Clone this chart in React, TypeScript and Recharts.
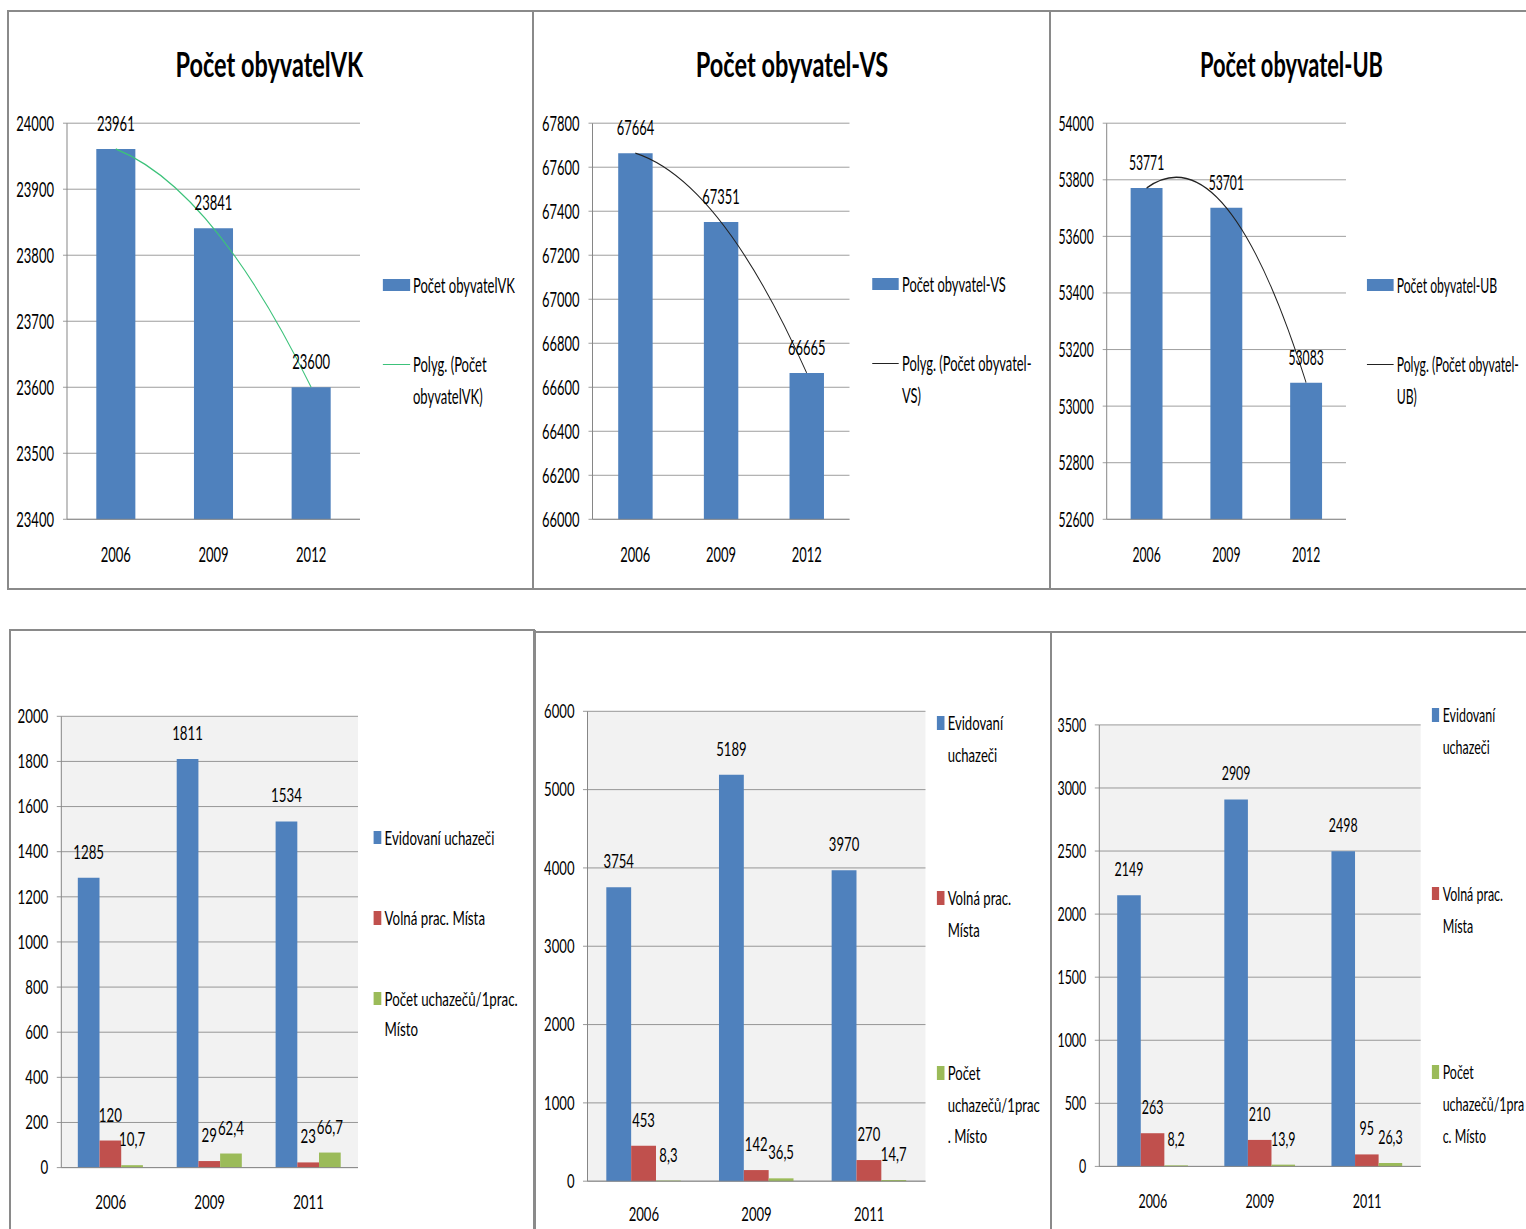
import React from "react";
import {
  ComposedChart,
  BarChart,
  Bar,
  Line,
  XAxis,
  YAxis,
  CartesianGrid,
  Legend,
  LabelList,
} from "recharts";

// ---- data ----
const popYears = ["2006", "2009", "2012"];
const popVK = [23961, 23841, 23600];
const popVS = [67664, 67351, 66665];
const popUB = [53771, 53701, 53083];
const ticksVK = [23400, 23500, 23600, 23700, 23800, 23900, 24000];
const ticksVS = [66000, 66200, 66400, 66600, 66800, 67000, 67200, 67400, 67600, 67800];
const ticksUB = [52600, 52800, 53000, 53200, 53400, 53600, 53800, 54000];

const jobYears = ["2006", "2009", "2011"];
const uchazeciVK = [1285, 1811, 1534];
const mistaVK = [120, 29, 23];
const pomerVK = [10.7, 62.4, 66.7];
const uchazeciVS = [3754, 5189, 3970];
const mistaVS = [453, 142, 270];
const pomerVS = [8.3, 36.5, 14.7];
const uchazeciUB = [2149, 2909, 2498];
const mistaUB = [263, 210, 95];
const pomerUB = [8.2, 13.9, 26.3];
const ticksJobVK = [0, 200, 400, 600, 800, 1000, 1200, 1400, 1600, 1800, 2000];
const ticksJobVS = [0, 1000, 2000, 3000, 4000, 5000, 6000];
const ticksJobUB = [0, 500, 1000, 1500, 2000, 2500, 3000, 3500];

const jobNames = ["Evidovaní uchazeči", "Volná prac. Místa", "Počet uchazečů/1prac. Místo"];
const jobLinesVK = [["Evidovaní uchazeči"], ["Volná prac. Místa"], ["Počet uchazečů/1prac.", "Místo"]];
const jobLinesVS = [["Evidovaní", "uchazeči"], ["Volná prac.", "Místa"], ["Počet", "uchazečů/1prac", ". Místo"]];
const jobLinesUB = [["Evidovaní", "uchazeči"], ["Volná prac.", "Místa"], ["Počet", "uchazečů/1pra", "c. Místo"]];

// ---- styling ----
const FONT = "Lato, 'Open Sans', sans-serif";
const GRID = "#868686";
const BLUE = "#4F81BD";
const RED = "#C0504D";
const GREEN = "#9BBB59";
const BORDER = "#8a8a8a";

type Rect = { left: number; top: number; right: number; bottom: number };

// order-2 polynomial trend through the three points (quadratic bezier)
function parabola(context: any) {
  let pts: number[][] = [];
  return {
    areaStart() {},
    areaEnd() {},
    lineStart() {
      pts = [];
    },
    point(x: number, y: number) {
      pts.push([x, y]);
    },
    lineEnd() {
      if (!pts.length) return;
      const [a, b, c] = pts;
      context.moveTo(a[0], a[1]);
      if (pts.length === 3) {
        context.quadraticCurveTo(
          2 * b[0] - (a[0] + c[0]) / 2,
          2 * b[1] - (a[1] + c[1]) / 2,
          c[0],
          c[1]
        );
      } else {
        pts.slice(1).forEach((p) => context.lineTo(p[0], p[1]));
      }
    },
  };
}

const commaNum = (v: any) => String(v).replace(".", ",");

function LegendBlock({ payload, items, fontSize, lineH, gap, markerW, markerH, textGap }: any) {
  return (
    <div style={{ fontFamily: FONT, fontSize, lineHeight: `${lineH}px`, color: "#000" }}>
      {items.map((it: any, i: number) => {
        const entry = (payload || []).find((p: any) => p.value === it.name);
        const color = entry?.color ?? "#000";
        return (
          <div key={it.name} style={{ display: "flex", marginTop: i ? gap : 0 }}>
            <div
              style={{
                width: markerW,
                height: lineH,
                flex: "none",
                display: "flex",
                alignItems: "center",
                marginRight: textGap,
              }}
            >
              {it.kind === "line" ? (
                <div style={{ width: "100%", borderTop: `1.5px solid ${color}` }} />
              ) : (
                <div style={{ width: "100%", height: markerH, background: color }} />
              )}
            </div>
            <div style={{ whiteSpace: "nowrap" }}>
              {it.lines.map((l: string) => (
                <div key={l}>{l}</div>
              ))}
            </div>
          </div>
        );
      })}
    </div>
  );
}

function Squeezed({ box, s, children }: { box: Rect; s: number; children: any }) {
  return (
    <div
      style={{
        position: "absolute",
        left: box.left,
        top: box.top,
        width: (box.right - box.left) / s,
        height: box.bottom - box.top,
        transform: `scaleX(${s})`,
        transformOrigin: "0 0",
      }}
    >
      {children}
    </div>
  );
}

function PopChart({ s, name, values, ticks, trendColor, box, plot, legendX, legendY, legendLines }: any) {
  const W = (box.right - box.left) / s;
  const H = box.bottom - box.top;
  const xAxisH = 40;
  const data = popYears.map((y, i) => ({ year: y, value: values[i] }));
  const trendName = `Polyg. (${name})`;
  const tickStyle = { fontSize: 21, fill: "#000", fontFamily: FONT };
  const lineH = 32;
  return (
    <Squeezed box={box} s={s}>
      <ComposedChart
        width={W}
        height={H}
        data={data}
        barCategoryGap="30%"
        margin={{
          top: plot.top - box.top,
          right: (box.right - plot.right) / s,
          left: 0,
          bottom: box.bottom - plot.bottom - xAxisH,
        }}
      >
        <CartesianGrid vertical={false} stroke={GRID} />
        <XAxis
          xAxisId="edge"
          type="number"
          domain={[0, 3]}
          ticks={[0, 1, 2, 3]}
          allowDataOverflow
          tick={false}
          axisLine={false}
          tickLine={{ stroke: GRID, strokeWidth: 1 / s }}
          tickSize={9}
          height={0}
        />
        <XAxis
          xAxisId="cat"
          dataKey="year"
          height={xAxisH}
          tickLine={false}
          tickSize={0}
          tickMargin={28}
          axisLine={{ stroke: GRID }}
          tick={tickStyle}
        />
        <YAxis
          domain={[ticks[0], ticks[ticks.length - 1]]}
          ticks={ticks}
          interval={0}
          width={(plot.left - box.left) / s}
          tickSize={4 / s}
          tickMargin={9 / s}
          axisLine={{ stroke: GRID, strokeWidth: 1 / s }}
          tickLine={{ stroke: GRID }}
          tick={tickStyle}
        />
        <Bar xAxisId="cat" dataKey="value" name={name} fill={BLUE} isAnimationActive={false}>
          <LabelList dataKey="value" position="top" offset={18} style={{ ...tickStyle }} />
        </Bar>
        <Line
          xAxisId="cat"
          dataKey="value"
          name={trendName}
          type={parabola as any}
          stroke={trendColor}
          strokeWidth={1.4}
          dot={false}
          activeDot={false}
          legendType="line"
          isAnimationActive={false}
        />
        <Legend
          layout="horizontal"
          verticalAlign="middle"
          align="center"
          wrapperStyle={{
            left: (legendX - box.left) / s,
            top: legendY - box.top - lineH / 2,
            width: 320,
            height: "auto",
          }}
          content={(props: any) => (
            <LegendBlock
              payload={props.payload}
              items={[
                { name, lines: legendLines[0], kind: "bar" },
                { name: trendName, lines: legendLines[1], kind: "line" },
              ]}
              fontSize={21}
              lineH={lineH}
              gap={47}
              markerW={27 / s}
              markerH={12.5}
              textGap={3 / s}
            />
          )}
        />
      </ComposedChart>
    </Squeezed>
  );
}

function JobChart({ s, u, m, p, ticks, box, plot, legendX, legendY, lineH, gap, legendLines, tickMargin }: any) {
  const W = (box.right - box.left) / s;
  const H = box.bottom - box.top;
  const xAxisH = 40;
  const data = jobYears.map((y, i) => ({ year: y, u: u[i], m: m[i], p: p[i] }));
  const tickStyle = { fontSize: 19, fill: "#000", fontFamily: FONT };
  const keys = ["u", "m", "p"];
  const colors = [BLUE, RED, GREEN];
  return (
    <Squeezed box={box} s={s}>
      <BarChart
        width={W}
        height={H}
        data={data}
        barCategoryGap="16.7%"
        barGap={0}
        margin={{
          top: plot.top - box.top,
          right: (box.right - plot.right) / s,
          left: 0,
          bottom: box.bottom - plot.bottom - xAxisH,
        }}
      >
        <CartesianGrid vertical={false} stroke={GRID} fill="#F2F2F2" />
        <XAxis
          xAxisId="edge"
          type="number"
          domain={[0, 3]}
          ticks={[0, 1, 2, 3]}
          allowDataOverflow
          tick={false}
          axisLine={false}
          tickLine={{ stroke: GRID, strokeWidth: 1 / s }}
          tickSize={9}
          height={0}
        />
        <XAxis
          xAxisId="cat"
          dataKey="year"
          height={xAxisH}
          tickLine={false}
          tickSize={0}
          tickMargin={tickMargin}
          axisLine={{ stroke: GRID }}
          tick={tickStyle}
        />
        <YAxis
          domain={[ticks[0], ticks[ticks.length - 1]]}
          ticks={ticks}
          interval={0}
          width={(plot.left - box.left) / s}
          tickSize={4.5 / s}
          tickMargin={8.5 / s}
          axisLine={{ stroke: GRID, strokeWidth: 1 / s }}
          tickLine={{ stroke: GRID }}
          tick={tickStyle}
        />
        {keys.map((k, i) => (
          <Bar key={k} xAxisId="cat" dataKey={k} name={jobNames[i]} fill={colors[i]} isAnimationActive={false}>
            <LabelList dataKey={k} position="top" offset={19} formatter={commaNum} style={{ ...tickStyle }} />
          </Bar>
        ))}
        <Legend
          layout="horizontal"
          verticalAlign="middle"
          align="center"
          wrapperStyle={{
            left: (legendX - box.left) / s,
            top: legendY - box.top - lineH / 2,
            width: 260,
            height: "auto",
          }}
          content={(props: any) => (
            <LegendBlock
              payload={props.payload}
              items={jobNames.map((n, i) => ({ name: n, lines: legendLines[i], kind: "bar" }))}
              fontSize={19}
              lineH={lineH}
              gap={gap}
              markerW={7.5 / s}
              markerH={13.5}
              textGap={3.5 / s}
            />
          )}
        />
      </BarChart>
    </Squeezed>
  );
}

function Title({ text, cx, width }: { text: string; cx: number; width: number }) {
  return (
    <text
      x={cx}
      y={76.5}
      textAnchor="middle"
      textLength={width}
      lengthAdjust="spacingAndGlyphs"
      fontFamily={FONT}
      fontWeight={700}
      fontSize={35}
      fill="#000"
    >
      {text}
    </text>
  );
}

const line = (style: any) => <div style={{ position: "absolute", ...style }} />;

export default function App() {
  return (
    <div
      style={{
        position: "absolute",
        left: 0,
        top: 0,
        width: 1526,
        height: 1229,
        overflow: "hidden",
        background: "#fff",
        fontFamily: FONT,
      }}
    >
      {/* panel frames */}
      {line({ left: 7, top: 10, width: 1600, height: 576, border: `2px solid ${BORDER}` })}
      {line({ left: 531.5, top: 10, width: 2, height: 578, background: BORDER })}
      {line({ left: 1049, top: 10, width: 2, height: 578, background: BORDER })}
      {line({ left: 9, top: 629, width: 524, height: 700, borderTop: `2px solid ${BORDER}`, borderLeft: `2px solid ${BORDER}` })}
      {line({ left: 533, top: 630, width: 3, height: 700, background: BORDER })}
      {line({ left: 535, top: 631, width: 1000, height: 2, background: BORDER })}
      {line({ left: 1049.5, top: 631, width: 2, height: 700, background: BORDER })}

      <svg width={1526} height={100} style={{ position: "absolute", left: 0, top: 0 }}>
        <Title text="Počet obyvatelVK" cx={269.3} width={187.5} />
        <Title text="Počet obyvatel-VS" cx={792} width={192.5} />
        <Title text="Počet obyvatel-UB" cx={1291.5} width={183} />
      </svg>

      <PopChart
        s={0.62}
        name="Počet obyvatelVK"
        values={popVK}
        ticks={ticksVK}
        trendColor="#3CC27A"
        box={{ left: 9, top: 12, right: 531, bottom: 584 }}
        plot={{ left: 67, top: 123.2, right: 360, bottom: 519.3 }}
        legendX={383}
        legendY={285}
        legendLines={[["Počet obyvatelVK"], ["Polyg. (Počet", "obyvatelVK)"]]}
      />
      <PopChart
        s={0.615}
        name="Počet obyvatel-VS"
        values={popVS}
        ticks={ticksVS}
        trendColor="#222"
        box={{ left: 534, top: 12, right: 1049, bottom: 584 }}
        plot={{ left: 592.5, top: 123.2, right: 849.5, bottom: 519.3 }}
        legendX={872}
        legendY={284}
        legendLines={[["Počet obyvatel-VS"], ["Polyg. (Počet obyvatel-", "VS)"]]}
      />
      <PopChart
        s={0.58}
        name="Počet obyvatel-UB"
        values={popUB}
        ticks={ticksUB}
        trendColor="#222"
        box={{ left: 1052, top: 12, right: 1526, bottom: 584 }}
        plot={{ left: 1106.7, top: 123.2, right: 1346, bottom: 519.3 }}
        legendX={1366.7}
        legendY={285}
        legendLines={[["Počet obyvatel-UB"], ["Polyg. (Počet obyvatel-", "UB)"]]}
      />

      <JobChart
        s={0.7}
        u={uchazeciVK}
        m={mistaVK}
        p={pomerVK}
        ticks={ticksJobVK}
        box={{ left: 11, top: 632, right: 532, bottom: 1229 }}
        plot={{ left: 61.3, top: 716.3, right: 358, bottom: 1167.6 }}
        legendX={373.6}
        legendY={837.5}
        lineH={30}
        gap={50.5}
        legendLines={jobLinesVK}
        tickMargin={28}
      />
      <JobChart
        s={0.69}
        u={uchazeciVS}
        m={mistaVS}
        p={pomerVS}
        ticks={ticksJobVS}
        box={{ left: 536, top: 633, right: 1049, bottom: 1229 }}
        plot={{ left: 587.5, top: 711.3, right: 925.5, bottom: 1181.2 }}
        legendX={936.7}
        legendY={723}
        lineH={31.5}
        gap={112}
        legendLines={jobLinesVS}
        tickMargin={26}
      />
      <JobChart
        s={0.655}
        u={uchazeciUB}
        m={mistaUB}
        p={pomerUB}
        ticks={ticksJobUB}
        box={{ left: 1052, top: 633, right: 1526, bottom: 1229 }}
        plot={{ left: 1099.3, top: 724.9, right: 1420.7, bottom: 1166.4 }}
        legendX={1431.7}
        legendY={715.1}
        lineH={32}
        gap={114.5}
        legendLines={jobLinesUB}
        tickMargin={28}
      />
    </div>
  );
}
